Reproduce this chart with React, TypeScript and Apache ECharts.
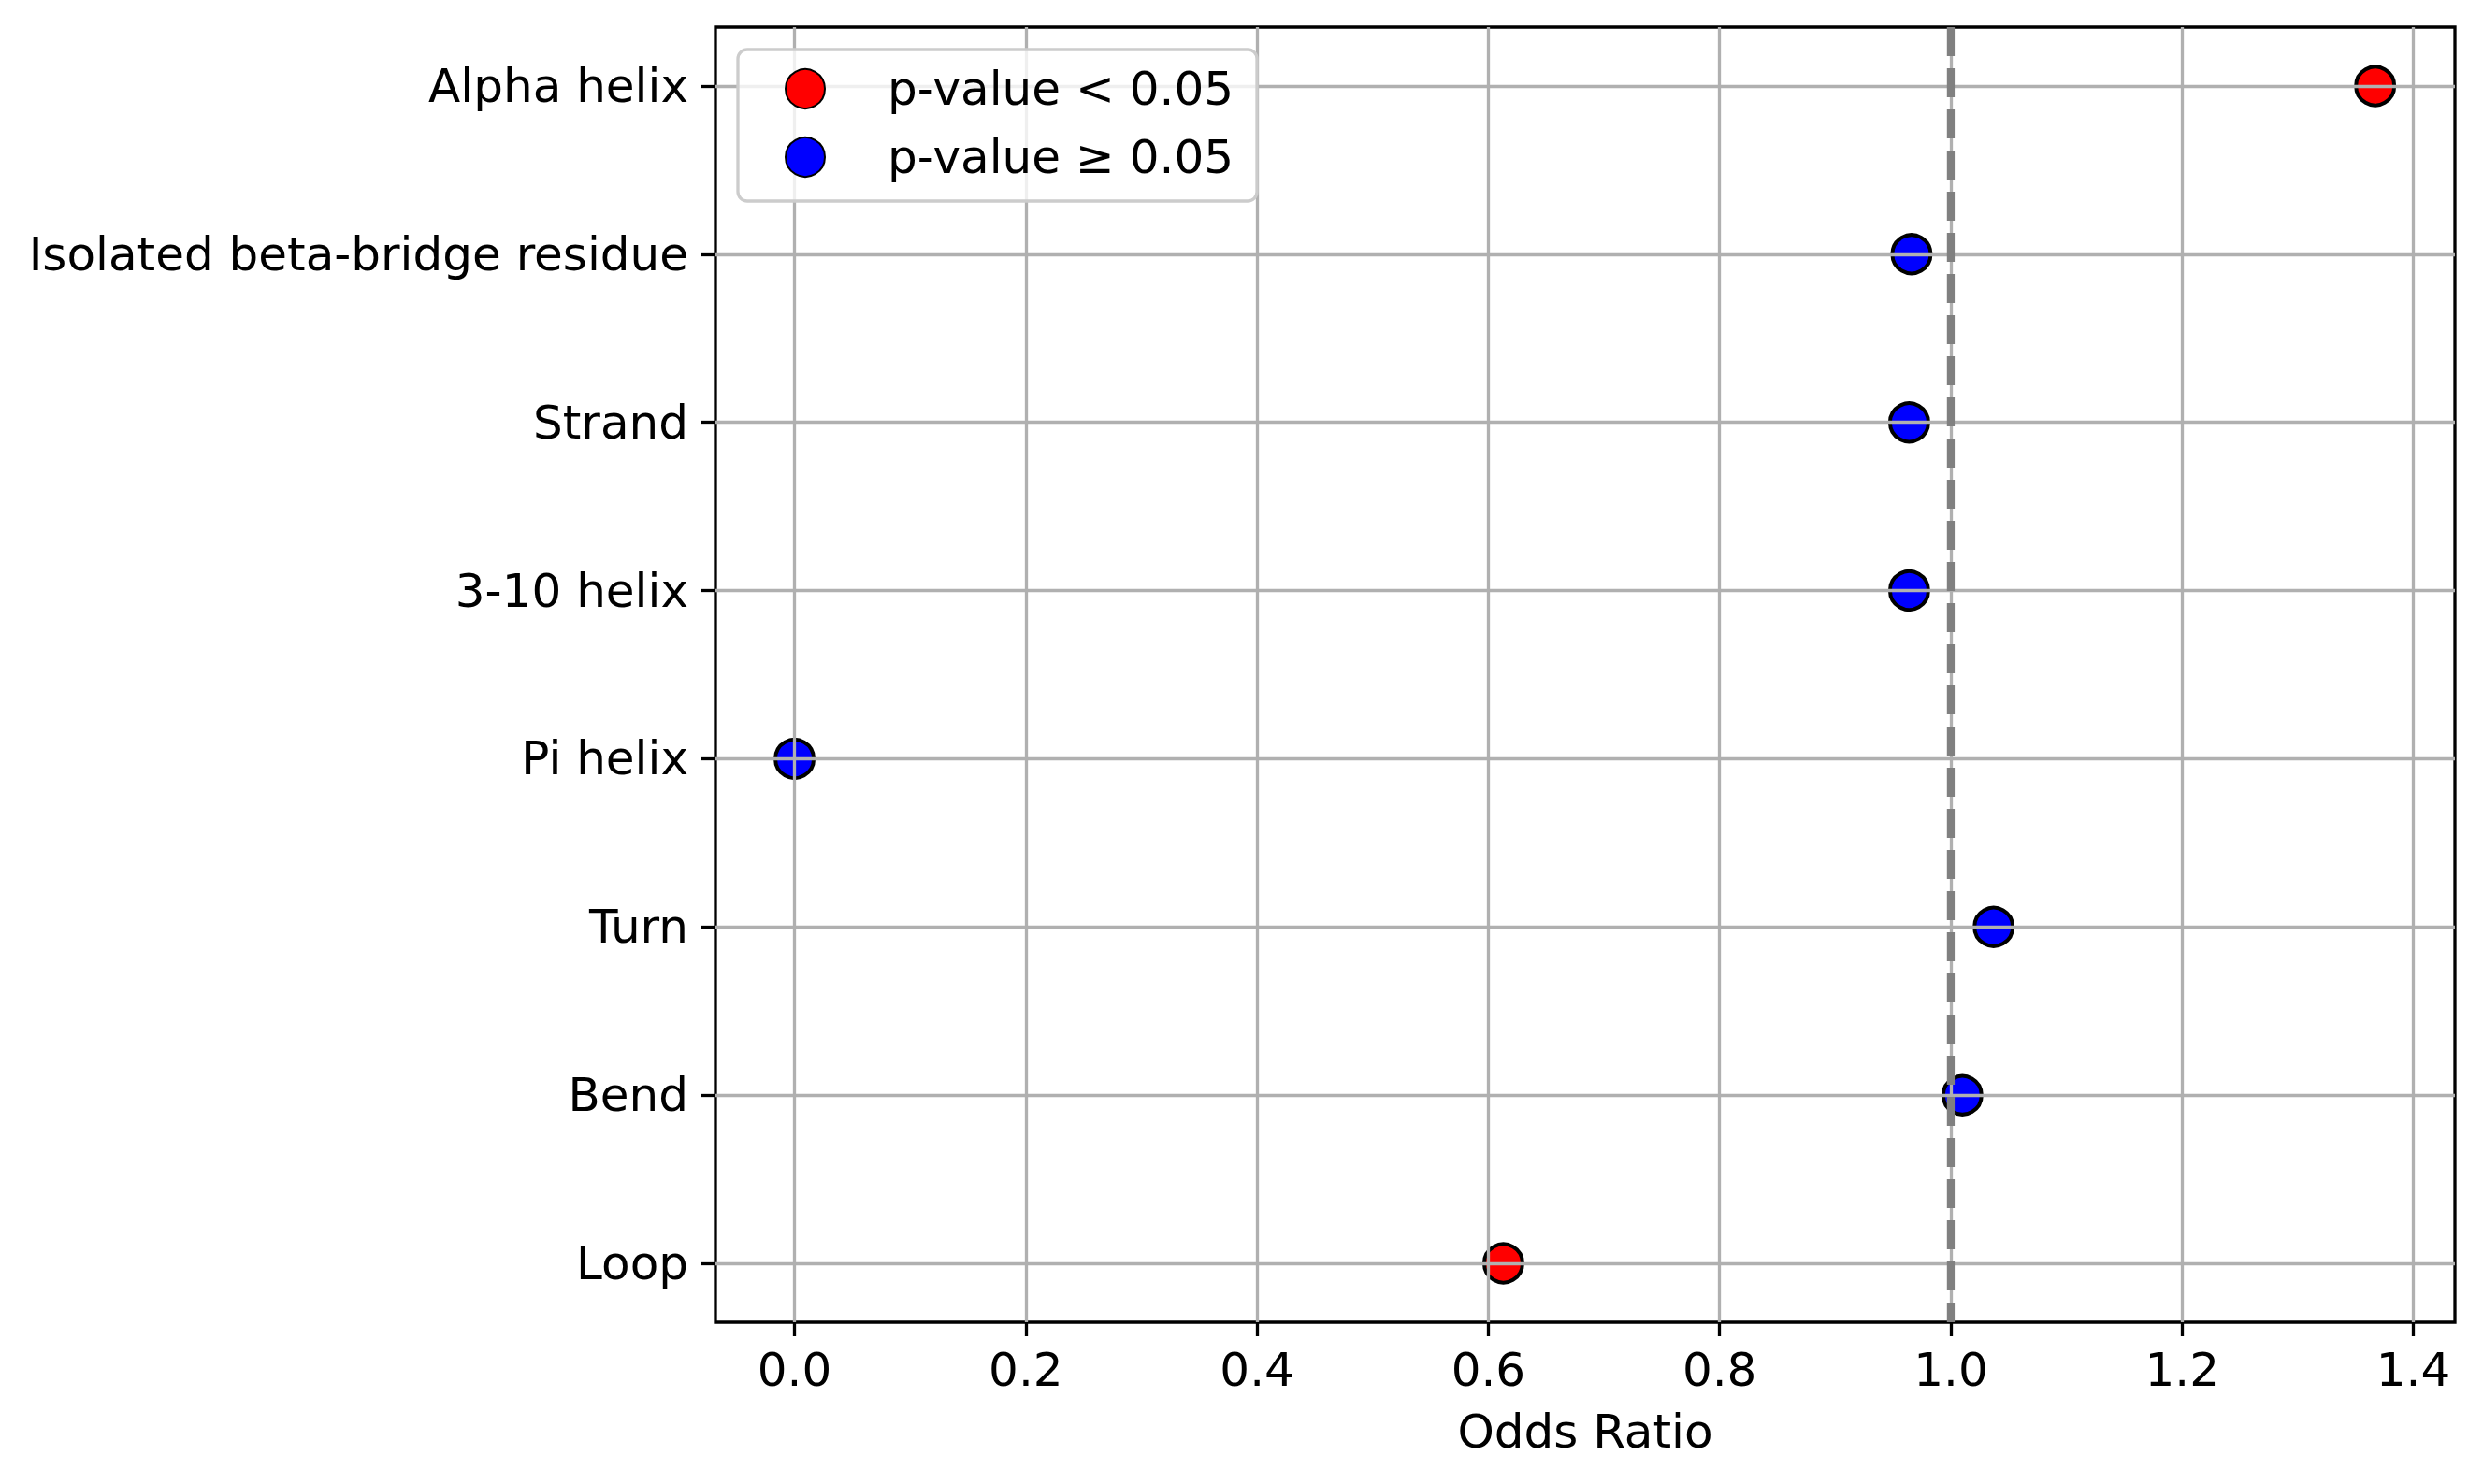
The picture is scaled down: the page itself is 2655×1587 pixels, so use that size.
import React, { useEffect, useRef } from "react";
import * as echarts from "echarts";

const categories = [
  "Alpha helix",
  "Isolated beta-bridge residue",
  "Strand",
  "3-10 helix",
  "Pi helix",
  "Turn",
  "Bend",
  "Loop",
];
const oddsRatios = [1.367, 0.966, 0.964, 0.964, 0.0, 1.037, 1.01, 0.613];
const significant = [true, false, false, false, false, false, false, true];
const xTicks = [0, 0.2, 0.4, 0.6, 0.8, 1.0, 1.2, 1.4];
const referenceLine = 1.0;
const legendNames = ["p-value < 0.05", "p-value \u2265 0.05"];

const FONT = "DejaVu Sans";

export default function App() {
  const ref = useRef<HTMLDivElement>(null);
  useEffect(() => {
    if (!ref.current) return;
    const chart = echarts.init(ref.current, undefined, { renderer: "svg" });
    const sigData: number[][] = [];
    const nsData: number[][] = [];
    oddsRatios.forEach((v, i) => {
      (significant[i] ? sigData : nsData).push([v, i]);
    });
    const yIdx = categories.map((_, i) => i);
    const markerStyle = (color: string) => ({
      color,
      borderColor: "#000",
      borderWidth: 4,
      opacity: 1,
    });
    chart.setOption({
      animation: false,
      backgroundColor: "#fff",
      grid: {
        left: 765,
        right: 30,
        top: 29,
        bottom: 173,
        show: true,
        borderColor: "#000",
        borderWidth: 3.3,
        backgroundColor: "transparent",
      },
      legend: {
        left: 789,
        top: 53,
        orient: "vertical",
        data: legendNames,
        icon: "circle",
        itemWidth: 42,
        itemHeight: 42,
        itemGap: 23,
        padding: [17, 25, 22, 50],
        backgroundColor: "rgba(255,255,255,0.8)",
        borderColor: "#cccccc",
        borderWidth: 3.3,
        borderRadius: 10,
        textStyle: {
          fontFamily: FONT,
          fontSize: 50,
          color: "#000",
          padding: [0, 0, 0, 62],
        },
        z: 10,
      },
      xAxis: {
        type: "value",
        min: -0.0684,
        max: 1.436,
        z: 3,
        name: "Odds Ratio",
        nameLocation: "middle",
        nameGap: 92,
        nameTextStyle: { fontFamily: FONT, fontSize: 50, color: "#000" },
        axisLine: { show: false, onZero: false },
        axisTick: {
          show: true,
          inside: false,
          length: 15,
          lineStyle: { color: "#000", width: 3.3 },
          customValues: xTicks,
        },
        axisLabel: {
          customValues: xTicks,
          margin: 26,
          fontFamily: FONT,
          fontSize: 50,
          color: "#000",
          formatter: (v: number) => v.toFixed(1),
        },
        splitLine: { show: true, lineStyle: { color: "#b0b0b0", width: 3.3 } },
      },
      yAxis: {
        type: "value",
        min: -0.35,
        max: 7.35,
        inverse: true,
        z: 3,
        axisLine: { show: false, onZero: false },
        axisTick: {
          show: true,
          inside: false,
          length: 15,
          lineStyle: { color: "#000", width: 3.3 },
          customValues: yIdx,
        },
        axisLabel: {
          customValues: yIdx,
          margin: 29,
          fontFamily: FONT,
          fontSize: 50,
          color: "#000",
          formatter: (v: number) => categories[Math.round(v)] ?? "",
        },
        splitLine: { show: true, lineStyle: { color: "#b0b0b0", width: 3.3 } },
      },
      series: [
        {
          name: legendNames[0],
          type: "scatter",
          data: sigData,
          symbol: "circle",
          symbolSize: 41,
          itemStyle: markerStyle("#ff0000"),
          z: 2,
        },
        {
          name: legendNames[1],
          type: "scatter",
          data: nsData,
          symbol: "circle",
          symbolSize: 41,
          itemStyle: markerStyle("#0000ff"),
          z: 2,
        },
        {
          name: "ref",
          type: "line",
          data: [
            [referenceLine, -0.35],
            [referenceLine, 7.35],
          ],
          symbol: "none",
          silent: true,
          z: 5,
          lineStyle: { color: "#808080", width: 8.3, type: [31, 13] },
        },
      ],
    });
    return () => chart.dispose();
  }, []);
  return (
    <div
      ref={ref}
      style={{ position: "fixed", left: 0, top: 0, width: 2655, height: 1587 }}
    />
  );
}
